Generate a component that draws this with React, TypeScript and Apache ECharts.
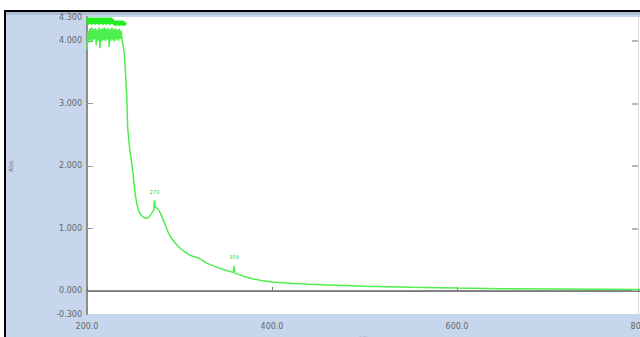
import React, { useEffect, useRef } from "react";
import * as echarts from "echarts";

// wavelength (nm) and absorbance of the measured spectrum
const wavelengths: number[] = [
  200, 201, 202, 203, 204, 205, 206, 207, 208, 209, 210, 211, 212, 213, 214, 215, 216, 217, 218, 219, 220,
  221, 222, 223, 224, 225, 226, 227, 228, 229, 230, 231, 232, 233, 234, 235, 236, 237, 238, 239, 240, 241,
  243, 244, 246, 248, 250, 252, 254, 256, 258, 260, 262, 264, 266, 268, 270, 272, 273, 274, 275, 276,
  278, 280, 282, 284, 286, 288, 290, 295, 300, 305, 310, 315, 320, 330, 340, 350, 357, 358, 359, 360, 365,
  370, 380, 390, 400, 420, 440, 460, 480, 500, 550, 600, 650, 700, 750, 800,
];
const absorbance: number[] = [
  3.86, 4.16, 3.97, 4.2, 4.0, 4.21, 3.99, 4.19, 4.02, 4.2, 3.93, 4.18, 4.0, 4.21, 3.88, 4.19, 3.99, 4.2, 4.01, 4.21, 3.99,
  4.19, 4.02, 4.2, 3.9, 4.19, 4.0, 4.21, 4.01, 4.19, 3.99, 4.2, 4.02, 4.18, 4.0, 4.19, 4.03, 4.16, 4.0, 3.94, 3.85, 3.65,
  3.1, 2.6, 2.3, 2.08, 1.85, 1.55, 1.38, 1.28, 1.22, 1.19, 1.17, 1.16, 1.17, 1.2, 1.24, 1.29, 1.45, 1.33, 1.33, 1.32,
  1.28, 1.22, 1.15, 1.08, 1.0, 0.93, 0.87, 0.77, 0.69, 0.63, 0.58, 0.55, 0.53, 0.44, 0.38, 0.33, 0.3, 0.29, 0.4, 0.28, 0.26,
  0.23, 0.19, 0.16, 0.14, 0.12, 0.105, 0.095, 0.085, 0.075, 0.058, 0.045, 0.035, 0.03, 0.025, 0.02,
];

// saturated (over-range) readings drawn at the top of the scale
const saturatedWavelengths: number[] = [
  200, 201, 202, 203, 204, 205, 206, 207, 208, 209, 210, 211, 212, 213, 214, 215, 216, 217, 218, 219, 220,
  221, 222, 223, 224, 225, 226, 227, 228, 229, 230, 231, 232, 233, 234, 235, 236, 237, 238, 239, 240, 241, 242,
];
const saturatedAbs: number[] = [
  4.37, 4.26, 4.37, 4.27, 4.37, 4.26, 4.37, 4.27, 4.37, 4.26, 4.37, 4.27, 4.37, 4.26, 4.37, 4.27, 4.37, 4.26, 4.37, 4.27, 4.37,
  4.26, 4.37, 4.27, 4.37, 4.26, 4.37, 4.27, 4.35, 4.25, 4.32, 4.24, 4.32, 4.25, 4.32, 4.24, 4.32, 4.25, 4.32, 4.24, 4.31, 4.25, 4.29,
];

const peakLabels: { nm: number; abs: number; text: string }[] = [
  { nm: 273, abs: 1.45, text: "273" },
  { nm: 359, abs: 0.4, text: "359" },
];

const yMin = -0.37;
const yMax = 4.38;
const yLabelValues: number[] = [-0.37, 0, 1, 2, 3, 4, 4.38];
const yLabelTexts: string[] = ["-0.300", "0.000", "1.000", "2.000", "3.000", "4.000", "4.300"];
const yTickValues: number[] = [0, 1, 2, 3, 4];
const xMin = 200;
const xMax = 800;
const xInterval = 200;

export default function App() {
  const ref = useRef<HTMLDivElement>(null);
  useEffect(() => {
    if (!ref.current) return;
    const chart = echarts.init(ref.current, undefined, { renderer: "svg" });
    const data = wavelengths.map((w, i) => [w, absorbance[i]]);
    const satData = saturatedWavelengths.map((w, i) => [w, saturatedAbs[i]]);
    const green = "#4def4d";
    chart.setOption({
      animation: false,
      backgroundColor: "#ffffff",
      graphic: [
        { type: "rect", z: -10, shape: { x: 4, y: 10, width: 640, height: 330 }, style: { fill: "#000000" } },
        { type: "rect", z: -9, shape: { x: 6, y: 12, width: 640, height: 330 }, style: { fill: "#c6d6ec" } },
        { type: "rect", z: -8, shape: { x: 6, y: 12, width: 640, height: 3 }, style: { fill: "#aebdd4" } },
      ],
      grid: {
        left: 87,
        top: 17,
        right: -2,
        bottom: 23,
        show: true,
        backgroundColor: "#ffffff",
        borderWidth: 0,
        outerBoundsMode: "none",
      },
      xAxis: {
        type: "value",
        min: xMin,
        max: xMax,
        interval: xInterval,
        name: "nm.",
        nameLocation: "middle",
        nameGap: 19,
        nameTextStyle: { fontSize: 6, color: "#777", fontFamily: "DejaVu Sans" },
        axisLine: { show: true, lineStyle: { color: "#8c8c8c", width: 2 } },
        axisTick: { show: true, inside: true, length: 4, lineStyle: { color: "#777" } },
        splitLine: { show: false },
        axisLabel: {
          margin: 8,
          fontSize: 8,
          color: "#666",
          fontFamily: "DejaVu Sans",
          formatter: (v: number) => v.toFixed(1),
        },
      },
      yAxis: [
        {
          type: "value",
          min: yMin,
          max: yMax,
          name: "Abs.",
          nameLocation: "middle",
          nameGap: 74,
          nameRotate: 90,
          nameTextStyle: { fontSize: 6, color: "#777", fontFamily: "DejaVu Sans" },
          axisLine: { show: true, lineStyle: { color: "#8c8c8c", width: 2 } },
          axisTick: { show: true, inside: true, length: 6, customValues: yTickValues, lineStyle: { color: "#999" } },
          splitLine: { show: false },
          axisLabel: {
            margin: 5,
            fontSize: 8,
            color: "#666",
            fontFamily: "DejaVu Sans",
            customValues: yLabelValues,
            formatter: (v: number) => {
              const i = yLabelValues.findIndex((x) => Math.abs(x - v) < 1e-6);
              return i >= 0 ? yLabelTexts[i] : v.toFixed(3);
            },
          },
        },
        {
          type: "value",
          min: yMin,
          max: yMax,
          position: "right",
          offset: -4,
          axisLine: { show: true, lineStyle: { color: "#d8d8d8", width: 1 } },
          axisTick: { show: true, inside: true, length: 6, customValues: yTickValues, lineStyle: { color: "#bbb", width: 2 } },
          axisLabel: { show: false },
          splitLine: { show: false },
        },
      ],
      series: [
        {
          type: "line",
          data: satData,
          showSymbol: false,
          symbol: "none",
          lineStyle: { color: "#22ee22", width: 2 },
        },
        {
          type: "line",
          data,
          showSymbol: false,
          symbol: "none",
          lineStyle: { color: green, width: 1.5 },
          markLine: {
            silent: true,
            symbol: "none",
            label: { show: false },
            lineStyle: { color: "#7a7a7a", width: 1, type: "solid" },
            data: [{ yAxis: 0 }],
          },
          markPoint: {
            symbol: "circle",
            symbolSize: 0,
            label: {
              show: true,
              position: "top",
              distance: 6,
              fontSize: 5,
              color: "#33cc33",
              fontFamily: "DejaVu Sans",
              formatter: (p: any) => p.name,
            },
            data: peakLabels.map((p) => ({ name: p.text, coord: [p.nm, p.abs] })),
          },
        },
      ],
    });
    return () => chart.dispose();
  }, []);
  return (
    <div
      ref={ref}
      style={{ position: "fixed", left: 0, top: 0, width: 640, height: 337 }}
    />
  );
}
